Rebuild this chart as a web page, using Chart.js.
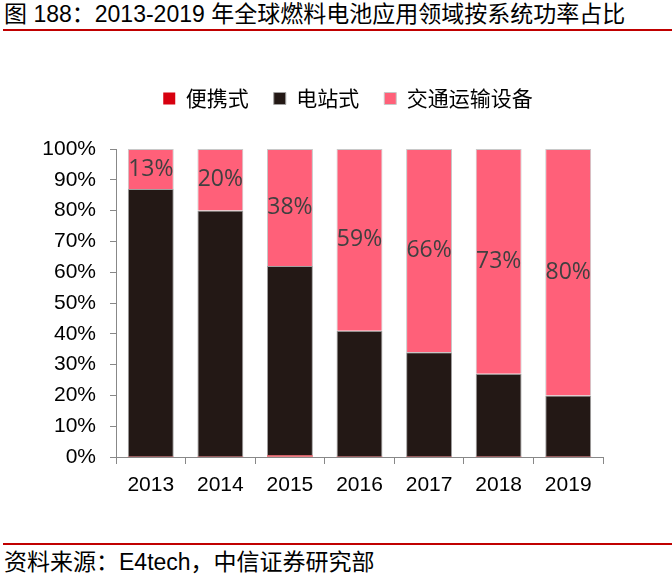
<!DOCTYPE html>
<html>
<head>
<meta charset="utf-8">
<script src="https://cdn.jsdelivr.net/npm/chart.js@4/dist/chart.umd.min.js"></script>
<style>
  body { margin: 0; background: #fff; font-family: "Liberation Sans", "Noto Sans CJK SC", sans-serif; }
  #wrap { position: relative; width: 672px; height: 579px; overflow: hidden; }
  #titulo { position: absolute; left: 4px; top: 0px; font-size: 23px; line-height: 28px; color: #000; white-space: nowrap; }
  .linha { position: absolute; left: 3px; right: 0; height: 2px; background: #c00000; }
  #fonte { position: absolute; left: 4px; top: 548px; font-size: 23px; line-height: 28px; color: #000; white-space: nowrap; }
  #grafico { position: absolute; left: 0; top: 40px; }
</style>
</head>
<body>
<div id="wrap">
  <div id="titulo">图 188：2013-2019 年全球燃料电池应用领域按系统功率占比</div>
  <div class="linha" style="top:29px"></div>
  <canvas id="grafico" width="672" height="490"></canvas>
  <div class="linha" style="top:543px"></div>
  <div id="fonte">资料来源：E4tech，中信证券研究部</div>
</div>
<script>
//Dados do gráfico
const anos = ['2013', '2014', '2015', '2016', '2017', '2018', '2019'];
const portatil = [0.1, 0.1, 0.5, 0.1, 0.1, 0.1, 0.1];
const estacionario = [86.9, 79.9, 61.5, 40.9, 33.9, 26.9, 19.9];
const transporte = [13, 20, 38, 59, 66, 73, 80];
const ticksY = [0, 10, 20, 30, 40, 50, 60, 70, 80, 90, 100];

const fonteLatina = '"Liberation Sans", "Noto Sans CJK SC", sans-serif';

//Escreve o percentual no meio de cada segmento rosa
const rotulosPlugin = {
    id: 'rotulos',
    afterDatasetsDraw(chart) {
        const ctx = chart.ctx;
        const meta = chart.getDatasetMeta(2);
        ctx.save();
        ctx.font = '23px "Open Sans", "Noto Sans", sans-serif';
        ctx.fillStyle = '#404040';
        ctx.textAlign = 'center';
        ctx.textBaseline = 'middle';
        meta.data.forEach((bar, i) => {
            const meio = (bar.y + bar.base) / 2;
            ctx.fillText(transporte[i] + '%', bar.x, meio);
        });
        ctx.restore();
    }
};

//Espaço extra abaixo da legenda
const espacoLegenda = {
    id: 'espacoLegenda',
    beforeInit(chart) {
        const fitOriginal = chart.legend.fit;
        chart.legend.fit = function () {
            fitOriginal.bind(chart.legend)();
            this.height += 30;
        };
    }
};

const ctx = document.getElementById('grafico');
new Chart(ctx, {
    type: 'bar',
    data: {
        labels: anos,
        datasets: [
            { label: '便携式', data: portatil, backgroundColor: '#d7000f', borderColor: '#d7000f', borderWidth: 0 },
            { label: '电站式', data: estacionario, backgroundColor: '#231815', borderColor: '#a0a0a0', borderWidth: 1 },
            { label: '交通运输设备', data: transporte, backgroundColor: '#ff6079', borderColor: '#c8c8c8', borderWidth: 1 }
        ]
    },
    options: {
        responsive: false,
        animation: false,
        devicePixelRatio: 1,
        layout: { padding: { top: 23, right: 0, left: 24, bottom: 0 } },
        categoryPercentage: 0.66,
        barPercentage: 1,
        plugins: {
            tooltip: { enabled: false },
            legend: {
                position: 'top',
                labels: {
                    boxWidth: 12,
                    boxHeight: 12,
                    padding: 25,
                    color: '#000',
                    font: { size: 21, family: '"Noto Sans CJK SC", sans-serif' }
                }
            }
        },
        scales: {
            x: {
                stacked: true,
                border: { color: '#888', width: 1 },
                grid: { display: true, drawOnChartArea: false, drawTicks: true, tickLength: 7, color: '#888', offset: true },
                ticks: { color: '#000', font: { size: 21, family: fonteLatina }, padding: 9, maxRotation: 0 },
                afterFit(scale) { scale.height = 73; }
            },
            y: {
                stacked: true,
                min: 0,
                max: 100,
                border: { color: '#888', width: 1 },
                grid: { drawOnChartArea: false, drawTicks: true, tickLength: 6, color: '#888' },
                afterBuildTicks(scale) { scale.ticks = ticksY.map(v => ({ value: v })); },
                ticks: {
                    color: '#000',
                    font: { size: 21, family: fonteLatina },
                    padding: 14,
                    callback: v => v + '%'
                },
                afterFit(scale) { scale.width = 92; }
            },
            //Eixo vazio à direita só para reservar a margem
            y2: {
                position: 'right',
                display: true,
                border: { display: false },
                grid: { display: false },
                ticks: { display: false },
                afterFit(scale) { scale.width = 69; }
            }
        }
    },
    plugins: [rotulosPlugin, espacoLegenda]
});
</script>
</body>
</html>
